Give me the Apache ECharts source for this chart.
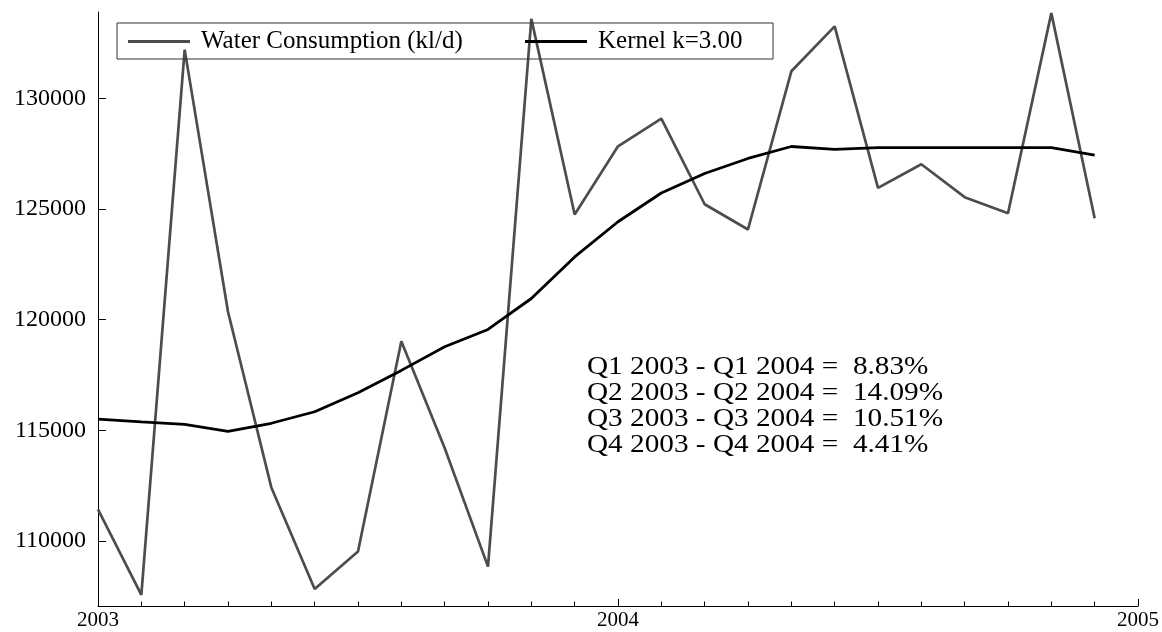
<!DOCTYPE html>
<html>
<head>
<meta charset="utf-8">
<title>Water Consumption 2003-2004</title>
<script src="https://cdn.jsdelivr.net/npm/echarts@6/dist/echarts.min.js"></script>
<style>
  html, body { margin: 0; padding: 0; background: #fff; }
  #chart { width: 1162px; height: 632px; }
</style>
</head>
<body>
<div id="chart"></div>
<script>
// Monthly periods covered by the series
const periods = [
  '2003-01','2003-02','2003-03','2003-04','2003-05','2003-06',
  '2003-07','2003-08','2003-09','2003-10','2003-11','2003-12',
  '2004-01','2004-02','2004-03','2004-04','2004-05','2004-06',
  '2004-07','2004-08','2004-09','2004-10','2004-11','2004-12'
];

// Water consumption, kl per day
const waterConsumption = [
  111430, 107560, 132210, 120360, 112420, 107830,
  109520, 119030, 114200, 108840, 133600, 124760,
  127840, 129090, 125220, 124080, 131230, 133260,
  125960, 127030, 125540, 124810, 133860, 124590
];

// Kernel smoother, k = 3.00
const kernelSmooth = [
  115510, 115380, 115270, 114950, 115320, 115840,
  116700, 117710, 118780, 119560, 120960, 122840,
  124430, 125730, 126610, 127290, 127830, 127700,
  127780, 127780, 127780, 127780, 127780, 127440
];

// Year-on-year quarterly changes
const quarterChanges = [
  'Q1 2003 - Q1 2004 =  8.83%',
  'Q2 2003 - Q2 2004 =  14.09%',
  'Q3 2003 - Q3 2004 =  10.51%',
  'Q4 2003 - Q4 2004 =  4.41%'
];

const yTicks = [110000, 115000, 120000, 125000, 130000];
const seriesNames = ['Water Consumption (kl/d)', 'Kernel k=3.00'];
const seriesColors = ['#4d4d4d', '#000000'];

// 'YYYY-MM' -> decimal year at the start of the month
function toYear(p) {
  const [y, m] = p.split('-').map(Number);
  return y + (m - 1) / 12;
}
const pairs = vals => vals.map((v, i) => [toYear(periods[i]), v]);

const FONT = '"Liberation Serif", "Times New Roman", serif';

const chart = echarts.init(document.getElementById('chart'));
chart.setOption({
  animation: false,
  backgroundColor: '#ffffff',
  grid: { left: 98, right: 22, top: 12, bottom: 26, containLabel: false },
  xAxis: {
    type: 'value',
    min: 2003,
    max: 2005,
    interval: 1,
    axisLine: { show: true, lineStyle: { color: '#000', width: 1 } },
    axisTick: { show: true, inside: true, length: 7, lineStyle: { color: '#000', width: 1 } },
    minorTick: { show: true, splitNumber: 12, length: 4.5, lineStyle: { color: '#000', width: 1 } },
    splitLine: { show: false },
    axisLabel: {
      margin: 4,
      color: '#000',
      fontFamily: FONT,
      fontSize: 21,
      formatter: v => String(Math.round(v))
    }
  },
  yAxis: {
    type: 'value',
    min: 107060,
    max: 133910,
    axisLine: { show: true, lineStyle: { color: '#000', width: 1 } },
    axisTick: { show: true, inside: true, length: 8, customValues: yTicks, lineStyle: { color: '#000', width: 1 } },
    splitLine: { show: false },
    axisLabel: {
      margin: 12,
      color: '#000',
      fontFamily: FONT,
      fontSize: 24,
      customValues: yTicks,
      formatter: v => String(v)
    }
  },
  legend: {
    left: 117,
    top: 23,
    orient: 'horizontal',
    data: [
      { name: seriesNames[0], icon: 'rect', itemStyle: { color: seriesColors[0] } },
      { name: seriesNames[1], icon: 'rect', itemStyle: { color: seriesColors[1] } }
    ],
    itemWidth: 62,
    itemHeight: 3,
    itemGap: 19,
    padding: [6, 10, 5, 11],
    borderColor: '#333',
    borderWidth: 1,
    backgroundColor: 'transparent',
    formatter: name => (name === seriesNames[0] ? '{w|' + name + '}' : '{k|' + name + '}'),
    textStyle: {
      color: '#000',
      fontFamily: FONT,
      fontSize: 25,
      lineHeight: 24,
      rich: {
        w: { fontFamily: FONT, fontSize: 25, lineHeight: 24, width: 305, padding: [0, 0, 0, 6] },
        k: { fontFamily: FONT, fontSize: 25, lineHeight: 24, width: 165, padding: [0, 0, 0, 6] }
      }
    }
  },
  graphic: [{
    type: 'text',
    x: 587,
    y: 354,
    scaleX: 1.17,
    silent: true,
    style: {
      text: quarterChanges.join('\n'),
      font: '25px ' + FONT,
      lineHeight: 26,
      fill: '#000',
      textAlign: 'left',
      textVerticalAlign: 'top'
    }
  }],
  series: [
    {
      name: seriesNames[0],
      type: 'line',
      data: pairs(waterConsumption),
      symbol: 'none',
      lineStyle: { color: seriesColors[0], width: 2.7 },
      itemStyle: { color: seriesColors[0] },
      z: 2
    },
    {
      name: seriesNames[1],
      type: 'line',
      data: pairs(kernelSmooth),
      symbol: 'none',
      lineStyle: { color: seriesColors[1], width: 2.8 },
      itemStyle: { color: seriesColors[1] },
      z: 3
    }
  ]
});
</script>
</body>
</html>
